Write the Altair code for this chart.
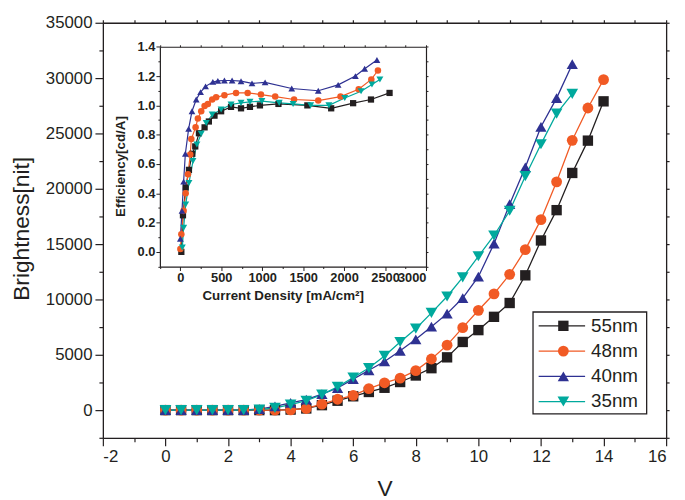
import altair as alt
import pandas as pd

# ---------------- data ----------------
series_names = ["55nm", "48nm", "40nm", "35nm"]
series_colors = ["#231F20", "#F15A24", "#2E3192", "#00A99D"]
series_shapes = ["square", "circle", "triangle-up", "triangle-down"]

volt_long = [i * 0.5 for i in range(29)]    # 0 .. 14
volt_short = [i * 0.5 for i in range(27)]   # 0 .. 13

bright_55 = [0, 0, 0, 0, 0, 0, 0, 0, 50, 150, 450, 850, 1250, 1640, 2020, 2540,
             3130, 3790, 4770, 6160, 7230, 8430, 9680, 12180, 15330, 18070,
             21430, 24350, 27900]
bright_48 = [0, 0, 0, 0, 0, 0, 0, 0, 30, 150, 540, 980, 1340, 1940, 2470, 2890,
             3570, 4620, 5870, 7450, 9020, 10510, 12270, 14500, 17210, 20630,
             24380, 27300, 29860]
bright_40 = [0, 0, 0, 0, 0, 0, 100, 350, 650, 950, 1450, 2000, 2800, 3600, 4400,
             5360, 6400, 7540, 8720, 10130, 12060, 15040, 18610, 21940, 25600,
             28190, 31260]
bright_35 = [0, 0, 0, 0, 0, 0, 50, 200, 500, 850, 1400, 2100, 2950, 3800, 4900,
             6160, 7360, 8790, 10270, 12000, 13900, 15780, 18010, 21140, 24020,
             26790, 28580]

cd_55 = [12, 32, 65, 105, 146, 182, 227, 296, 348, 417, 498, 619, 741, 850, 972,
         1198, 1551, 1842, 2110, 2328, 2555]
eff_55 = [0.0, 0.25, 0.44, 0.56, 0.67, 0.72, 0.81, 0.85, 0.89, 0.93, 0.96, 0.99,
          0.98, 0.99, 1.0, 1.01, 1.0, 0.98, 1.015, 1.04, 1.085]
cd_48 = [0, 12, 40, 65, 93, 121, 134, 186, 214, 255, 296, 336, 389, 437, 538, 680,
         822, 984, 1158, 1389, 1684, 1956, 2178, 2332, 2413]
eff_48 = [0.02, 0.12, 0.28, 0.40, 0.53, 0.665, 0.77, 0.85, 0.91, 0.96, 0.995, 1.01,
          1.04, 1.055, 1.07, 1.085, 1.085, 1.074, 1.06, 1.04, 1.033, 1.06, 1.11,
          1.177, 1.238]
cd_40 = [0, 20, 40, 61, 101, 142, 194, 247, 308, 397, 458, 538, 632, 741, 875, 1035,
         1360, 1684, 1927, 2138, 2251, 2401]
eff_40 = [0.09, 0.28, 0.48, 0.67, 0.84, 0.96, 1.04, 1.09, 1.13, 1.16, 1.167, 1.17,
          1.17, 1.165, 1.15, 1.157, 1.115, 1.10, 1.14, 1.20, 1.25, 1.31]
cd_35 = [24, 40, 65, 105, 154, 202, 255, 316, 389, 498, 619, 741, 850, 996, 1207,
         1377, 1591, 1814, 2008, 2207, 2340, 2437]
eff_35 = [0.03, 0.164, 0.323, 0.47, 0.62, 0.733, 0.806, 0.88, 0.937, 0.972, 1.006,
          1.017, 1.024, 1.029, 1.017, 1.01, 1.0, 1.0, 1.05, 1.097, 1.143, 1.177]

# ---------------- tables ----------------
main_rows = []
for name, vs, bs in [("55nm", volt_long, bright_55), ("48nm", volt_long, bright_48),
                     ("40nm", volt_short, bright_40), ("35nm", volt_short, bright_35)]:
    for v, b in zip(vs, bs):
        main_rows.append({"series": name, "V": v, "B": b})
main_df = pd.DataFrame(main_rows)

inset_rows = []
for name, cs, es in [("55nm", cd_55, eff_55), ("48nm", cd_48, eff_48),
                     ("40nm", cd_40, eff_40), ("35nm", cd_35, eff_35)]:
    for c, e in zip(cs, es):
        inset_rows.append({"series": name, "J": c, "E": e})
inset_df = pd.DataFrame(inset_rows)

legend_df = pd.DataFrame({"series": series_names})
box_df = pd.DataFrame({"k": [0]})

# ---------------- style ----------------
AX = "#231F20"
FONT = "Liberation Sans"
W, H = 570, 420

color = alt.Color("series:N", scale=alt.Scale(domain=series_names, range=series_colors), legend=None)
shape = alt.Shape("series:N", scale=alt.Scale(domain=series_names, range=series_shapes), legend=None)

x_main = alt.Scale(domain=[-2, 16], nice=False, zero=False)
y_main = alt.Scale(domain=[-2500, 35000], nice=False, zero=False)

base_axis = dict(domainColor=AX, tickColor=AX, grid=False)
main_axis_common = dict(base_axis, labelColor=AX, titleColor=AX,
                        labelFont=FONT, titleFont=FONT, domainWidth=1.3, tickWidth=1.2,
                        labelFontSize=17, titleFontSize=23, labelOverlap=False,
                        titleFontWeight="normal")

x_vals = list(range(-2, 17))
y_vals = list(range(-2500, 35001, 2500))

x_bottom = alt.Axis(orient="bottom", values=x_vals, title="V",
                    labelExpr="datum.value % 2 == 0 ? '' + datum.value : ''",
                    tickSize={"condition": {"test": "datum.value % 2 == 0", "value": 8}, "value": 4},
                    labelPadding=3, titleX=285, titleY=51, titleBaseline="middle",
                    titleAlign="center", **main_axis_common)
y_left = alt.Axis(orient="left", values=y_vals, title="Brightness[nit]",
                  labelExpr="datum.value % 5000 == 0 ? '' + datum.value : ''",
                  tickSize={"condition": {"test": "datum.value % 5000 == 0", "value": 8}, "value": 4},
                  labelPadding=3, titleX=-82, titleY=208, titleBaseline="middle",
                  titleAlign="center", titleAngle=-90, **main_axis_common)
x_top = alt.Axis(orient="top", values=x_vals, title=None, labels=False, tickSize=3,
                 domainWidth=1.3, tickWidth=1.2, **base_axis)
y_right = alt.Axis(orient="right", values=y_vals, title=None, labels=False, tickSize=3,
                   domainWidth=1.3, tickWidth=1.2, **base_axis)

main_lines = alt.Chart(main_df).mark_line(strokeWidth=1.3).encode(
    x=alt.X("V:Q", scale=x_main, axis=x_bottom),
    y=alt.Y("B:Q", scale=y_main, axis=y_left),
    color=color,
)
main_points = alt.Chart(main_df).mark_point(filled=True, opacity=1).encode(
    x=alt.X("V:Q", scale=x_main, axis=x_top),
    y=alt.Y("B:Q", scale=y_main, axis=y_right),
    color=color,
    shape=shape,
    size=alt.Size("series:N", scale=alt.Scale(domain=series_names, range=[110, 140, 170, 170]), legend=None),
)

# ---------------- inset ----------------
IN_L, IN_R, IN_T, IN_B = 57.7, 327.0, 24.3, 246.7
x_in = alt.Scale(domain=[-250, 3000], range=[IN_L, IN_R], nice=False, zero=False)
y_in = alt.Scale(domain=[-0.1, 1.4], range=[IN_B, IN_T], nice=False, zero=False)

inset_common = dict(base_axis, labelColor=AX, titleColor=AX,
                    labelFont=FONT, titleFont=FONT, domainWidth=1.2, tickWidth=1,
                    labelFontSize=13, titleFontSize=13.5, labelOverlap=False,
                    labelFontWeight="bold", titleFontWeight="bold")
xin_vals = list(range(-250, 3001, 250))
yin_vals = [round(i * 0.1, 1) for i in range(-1, 15)]

xin_bottom = alt.Axis(orient="bottom", values=xin_vals, offset=IN_B - H,
                      title="Current Density [mA/cm²]",
                      labelExpr="datum.value % 500 == 0 ? '' + datum.value : ''",
                      tickSize={"condition": {"test": "datum.value % 500 == 0", "value": 4}, "value": 2},
                      labelPadding=1, titleX=182, titleY=29, titleBaseline="middle",
                      titleAlign="center", **inset_common)
yin_left = alt.Axis(orient="left", values=yin_vals, offset=-IN_L, title="Efficiency[cd/A]",
                    labelExpr="round(datum.value * 10) % 2 == 0 ? format(datum.value, '.1f') : ''",
                    tickSize={"condition": {"test": "round(datum.value * 10) % 2 == 0", "value": 4}, "value": 2},
                    labelPadding=1, titleX=-40, titleY=145, titleBaseline="middle",
                    titleAlign="center", titleAngle=-90, **inset_common)
xin_top = alt.Axis(orient="top", values=xin_vals, offset=-IN_T, title=None, labels=False,
                   tickSize=2, domainWidth=1.2, tickWidth=1, **base_axis)
yin_right = alt.Axis(orient="right", values=yin_vals, offset=IN_R - W, title=None, labels=False,
                     tickSize=2, domainWidth=1.2, tickWidth=1, **base_axis)

inset_lines = alt.Chart(inset_df).mark_line(strokeWidth=1.2).encode(
    x=alt.X("J:Q", scale=x_in, axis=xin_bottom),
    y=alt.Y("E:Q", scale=y_in, axis=yin_left),
    color=color,
)
inset_points = alt.Chart(inset_df).mark_point(filled=True, opacity=1).encode(
    x=alt.X("J:Q", scale=x_in, axis=xin_top),
    y=alt.Y("E:Q", scale=y_in, axis=yin_right),
    color=color,
    shape=shape,
    size=alt.Size("series:N", scale=alt.Scale(domain=series_names, range=[40, 50, 64, 64]), legend=None),
)

# ---------------- legend ----------------
leg_y = alt.Y("series:N", scale=alt.Scale(type="point", domain=series_names, range=[306.7, 383.3], padding=0), axis=None)

legend_box = alt.Chart(box_df).mark_rect(fill="white", stroke=AX, strokeWidth=1.3).encode(
    x=alt.value(435.3), x2=alt.value(550.3), y=alt.value(292.7), y2=alt.value(395.7)
)
legend_lines = alt.Chart(legend_df).mark_rule(strokeWidth=1.3).encode(
    x=alt.value(441), x2=alt.value(488), y=leg_y, color=color
)
legend_marks = alt.Chart(legend_df).mark_point(filled=True, opacity=1).encode(
    x=alt.value(466), y=leg_y, color=color, shape=shape,
    size=alt.Size("series:N", scale=alt.Scale(domain=series_names, range=[110, 140, 170, 170]), legend=None),
)
legend_text = alt.Chart(legend_df).mark_text(align="left", baseline="middle", font=FONT,
                                             fontSize=19, color=AX).encode(
    x=alt.value(494), y=leg_y, text="series:N"
)

chart = alt.layer(
    main_lines, main_points, inset_lines, inset_points,
    legend_box, legend_lines, legend_marks, legend_text
).resolve_scale(
    x="independent", y="independent", size="independent"
).resolve_axis(
    x="independent", y="independent"
).properties(
    width=W, height=H,
    autosize=alt.AutoSizeParams(type="none"),
    padding={"left": 96, "top": 12, "right": 11, "bottom": 60},
).configure_view(stroke=None).configure(background="white")

chart.save("out.html", embed_options={"renderer": "svg", "actions": False})
